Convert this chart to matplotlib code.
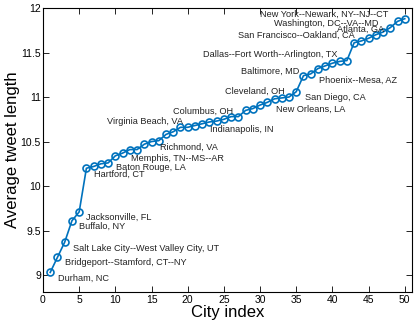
import matplotlib
matplotlib.use("Agg")
import matplotlib.pyplot as plt

plt.rcParams['font.family'] = ['Liberation Sans', 'DejaVu Sans']

city_index = list(range(1, 51))
avg_length = [9.03, 9.20, 9.37, 9.61, 9.71, 10.20, 10.22, 10.25, 10.26, 10.34,
              10.37, 10.41, 10.41, 10.47, 10.50, 10.51, 10.58, 10.61, 10.66, 10.66,
              10.68, 10.70, 10.72, 10.73, 10.75, 10.78, 10.78, 10.85, 10.87, 10.91,
              10.94, 10.98, 10.99, 11.00, 11.06, 11.24, 11.26, 11.32, 11.35, 11.38,
              11.40, 11.41, 11.61, 11.63, 11.66, 11.70, 11.73, 11.78, 11.85, 11.88]

label_names = ["Durham, NC", "Bridgeport--Stamford, CT--NY",
               "Salt Lake City--West Valley City, UT", "Buffalo, NY",
               "Jacksonville, FL", "Hartford, CT", "Baton Rouge, LA",
               "Memphis, TN--MS--AR", "Richmond, VA", "Virginia Beach, VA",
               "Columbus, OH", "Indianapolis, IN", "Cleveland, OH",
               "New Orleans, LA", "San Diego, CA", "Baltimore, MD",
               "Phoenix--Mesa, AZ", "Dallas--Fort Worth--Arlington, TX",
               "San Francisco--Oakland, CA", "Atlanta, GA",
               "Washington, DC--VA--MD", "New York--Newark, NY--NJ--CT"]
label_x = [2.1, 3.0, 4.1, 5.0, 6.0, 7.1, 10.1, 12.1, 16.2, 8.9,
           18.0, 23.1, 25.1, 32.2, 36.2, 27.3, 38.2, 22.1, 26.9, 40.6, 31.9, 30.0]
label_y = [8.96, 9.14, 9.30, 9.55, 9.65, 10.13, 10.21, 10.31, 10.44, 10.73,
           10.84, 10.64, 11.06, 10.86, 11.00, 11.29, 11.19, 11.48, 11.69, 11.76, 11.83, 11.93]

fig = plt.figure(figsize=(4.15, 3.24), dpi=100)
ax = fig.add_axes([0.1036, 0.0988, 0.8892, 0.8765])

ax.plot(city_index, avg_length, '-o', color='#0072BD', lw=1.2,
        markersize=5, markerfacecolor='none', markeredgewidth=1.2)

for name, x, y in zip(label_names, label_x, label_y):
    ax.text(x, y, name, fontsize=6.6, ha='left', va='center', color='#222222')

ax.set_xlim(0, 51)
ax.set_ylim(8.81, 12)
ax.set_xticks(range(0, 51, 5))
ax.set_yticks([9, 9.5, 10, 10.5, 11, 11.5, 12])
ax.set_yticklabels(['9', '9.5', '10', '10.5', '11', '11.5', '12'])
ax.tick_params(direction='in', top=True, right=True, labelsize=7.5, length=4, width=0.6)
ax.tick_params(axis='y', pad=1.5)
ax.tick_params(axis='x', pad=2.5)
for s in ax.spines.values():
    s.set_linewidth(0.8)

ax.set_xlabel('City index', fontsize=12, labelpad=0)
ax.set_ylabel('Average tweet length', fontsize=12)
ax.yaxis.set_label_coords(-0.062, 0.5)

fig.savefig('out.png', dpi=100)
